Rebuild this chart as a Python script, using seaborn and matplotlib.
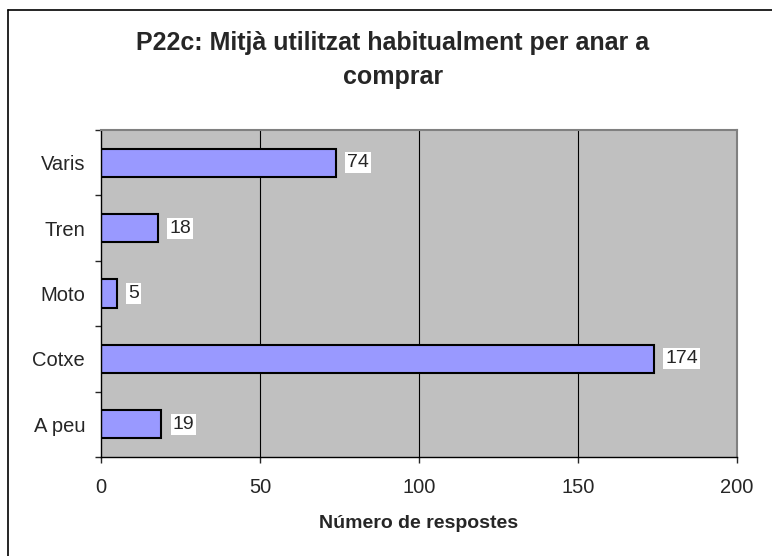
import numpy as np
import pandas as pd
import matplotlib as mpl
mpl.use("Agg")
import matplotlib.pyplot as plt
import seaborn as sns
from matplotlib.lines import Line2D

### DATA ###
categories = ["Varis", "Tren", "Moto", "Cotxe", "A peu"]
responses = [74, 18, 5, 174, 19]
x_ticks = [0, 50, 100, 150, 200]

sns.set_style("white")
plt.rcParams['font.family'] = ['Liberation Sans', 'DejaVu Sans']

df = pd.DataFrame({"Mitja": categories, "Respostes": responses})

fig = plt.figure(figsize=(7.72, 5.56), dpi=100)
ax = fig.add_axes([101/772, 1 - 457/556, (737-101)/772, (457-130)/556])
ax.set_facecolor("#C0C0C0")

sns.barplot(data=df, y="Mitja", x="Respostes", orient="h", ax=ax,
            color="#9999FF", edgecolor="black", linewidth=1.5, width=0.43,
            saturation=1)

# GRID + AXES
for v in x_ticks[1:-1]:
    ax.axvline(v, color="black", linewidth=0.8, zorder=0)
ax.set_xlim(0, 200)
ax.set_ylim(len(categories) - 0.5, -0.5)
ax.set_xticks(x_ticks)
ax.set_xticklabels([str(t) for t in x_ticks], fontsize=14.5)
ax.set_yticks(np.arange(len(categories)))
ax.set_yticklabels(categories, fontsize=14.5)
ax.tick_params(axis='y', length=0, pad=11.5)
ax.tick_params(axis='x', length=4.3, width=1, direction='out', pad=11, bottom=True)
# y ticks at category boundaries
ax.set_yticks(np.arange(len(categories) + 1) - 0.5, minor=True)
ax.tick_params(axis='y', which='minor', length=4.3, width=1, direction='out', left=True)
for side in ["left", "bottom"]:
    ax.spines[side].set_color("black")
    ax.spines[side].set_linewidth(1)
for side in ["top", "right"]:
    ax.spines[side].set_color("#808080")
    ax.spines[side].set_linewidth(1.5)
ax.set_ylabel("")
ax.set_xlabel("Número de respostes", fontsize=14, fontweight='bold', labelpad=13)

# VALUE LABELS
for i, val in enumerate(responses):
    ax.annotate(str(val), xy=(val, i), xytext=(8, 0), textcoords="offset points",
                va="center", ha="left", fontsize=14,
                bbox=dict(boxstyle="square,pad=0.1", facecolor="white", edgecolor="none"))

fig.text(393/772, 1 - 31/556, "P22c: Mitjà utilitzat habitualment per anar a\ncomprar",
         fontsize=18, fontweight='bold', ha='center', va='top', linespacing=1.55)

# CHART BORDER (only top and left fall inside the picture)
fig.lines.append(Line2D([8/772, 8/772], [0, 1 - 10/556], transform=fig.transFigure,
                        color="black", linewidth=1.2))
fig.lines.append(Line2D([8/772, 1], [1 - 10/556, 1 - 10/556], transform=fig.transFigure,
                        color="black", linewidth=1.2))

fig.savefig("out.png", dpi=100)
